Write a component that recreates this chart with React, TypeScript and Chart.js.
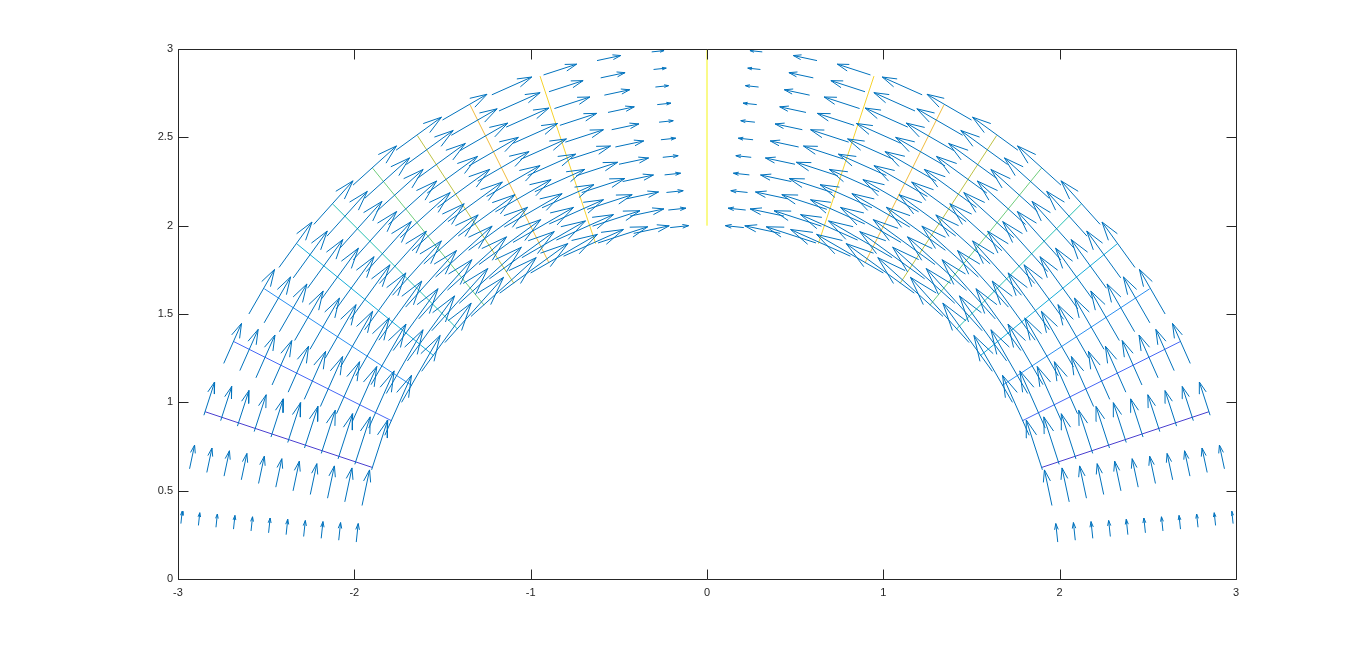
import React, { useEffect, useRef } from 'react';
import { Chart, registerables } from 'chart.js';

Chart.register(...registerables);

// Polar grid of the quiver plot
const radii = [2.0, 2.1, 2.2, 2.3, 2.4, 2.5, 2.6, 2.7, 2.8, 2.9, 3.0];
const anglesDeg = [
  0, 6, 12, 18, 24, 30, 36, 42, 48, 54, 60, 66, 72, 78, 84, 90,
  96, 102, 108, 114, 120, 126, 132, 138, 144, 150, 156, 162, 168, 174, 180,
];
// tangential (counter-clockwise) velocity at r = 3, per angle (relative units)
const tangentialSpeed = [
  0, 0.21, 0.41, 0.59, 0.74, 0.87, 0.95, 0.99, 0.99, 0.95, 0.87, 0.74, 0.59, 0.41, 0.21, 0,
  -0.21, -0.41, -0.59, -0.74, -0.87, -0.95, -0.99, -0.99, -0.95, -0.87, -0.74, -0.59, -0.41, -0.21, 0,
];
// growth of the velocity toward the inner radius (per radius above)
const radialFactor = [1.5, 1.43, 1.36, 1.3, 1.25, 1.2, 1.15, 1.11, 1.07, 1.03, 1.0];

// Contour lines (radial), angle from the horizontal on each side
const contourLevels = [-0.8, -0.6, -0.4, -0.2, 0, 0.2, 0.4, 0.6, 0.8, 1.0];
const contourAnglesDeg = [18.4, 26.6, 33.2, 39.2, 45, 50.8, 56.8, 63.4, 71.6, 90];
const contourColors = [
  '#4a3fd0', '#4667f5', '#2a8ef0', '#14abd8', '#24bfb0',
  '#6ecc7a', '#bdc143', '#f0bb3d', '#f6d22c', '#f5f512',
];
const contourInner = 2.0;
const contourOuter = 3.0;

const xTicks = [-3, -2, -1, 0, 1, 2, 3];
const yTicks = [0, 0.5, 1, 1.5, 2, 2.5, 3];

const ARROW_SCALE = 0.335;
const HEAD_ALPHA = 0.33;
const HEAD_BETA = 0.3;

function buildArrows() {
  const pts: { x: number; y: number }[] = [];
  const gap = { x: NaN, y: NaN };
  anglesDeg.forEach((deg, i) => {
    const th = (deg * Math.PI) / 180;
    radii.forEach((r, j) => {
      const m = tangentialSpeed[i] * radialFactor[j] * ARROW_SCALE;
      if (m === 0) return;
      const x = r * Math.cos(th);
      const y = r * Math.sin(th);
      const u = -m * Math.sin(th);
      const v = m * Math.cos(th);
      const tx = x + u;
      const ty = y + v;
      pts.push({ x, y }, { x: tx, y: ty }, gap);
      pts.push(
        { x: tx - HEAD_ALPHA * (u + HEAD_BETA * v), y: ty - HEAD_ALPHA * (v - HEAD_BETA * u) },
        { x: tx, y: ty },
        { x: tx - HEAD_ALPHA * (u - HEAD_BETA * v), y: ty - HEAD_ALPHA * (v + HEAD_BETA * u) },
        gap
      );
    });
  });
  return pts;
}

function buildContours() {
  const sets: any[] = [];
  contourLevels.forEach((lvl, k) => {
    const a = contourAnglesDeg[k];
    const sides = a === 90 ? [a] : [a, 180 - a];
    const data: { x: number; y: number }[] = [];
    sides.forEach((deg) => {
      const th = (deg * Math.PI) / 180;
      data.push(
        { x: contourInner * Math.cos(th), y: contourInner * Math.sin(th) },
        { x: contourOuter * Math.cos(th), y: contourOuter * Math.sin(th) },
        { x: NaN, y: NaN }
      );
    });
    sets.push({
      label: 'level ' + lvl,
      data,
      showLine: true,
      borderColor: contourColors[k],
      borderWidth: 1,
      pointRadius: 0,
      spanGaps: false,
    });
  });
  return sets;
}

const matlabAxes = {
  id: 'matlabAxes',
  afterDraw(chart: any) {
    const { ctx, chartArea } = chart;
    const { left, right, top, bottom } = chartArea;
    const xs = chart.scales.x;
    const ys = chart.scales.y;
    const tl = 10;
    ctx.save();
    ctx.strokeStyle = '#262626';
    ctx.lineWidth = 1;
    ctx.beginPath();
    const L = Math.round(left) + 0.5;
    const R = Math.round(right) + 0.5;
    const T = Math.round(top) + 0.5;
    const B = Math.round(bottom) + 0.5;
    ctx.moveTo(L, T);
    ctx.lineTo(R, T);
    ctx.lineTo(R, B);
    ctx.lineTo(L, B);
    ctx.closePath();
    xTicks.forEach((v) => {
      const px = Math.round(xs.getPixelForValue(v)) + 0.5;
      ctx.moveTo(px, B);
      ctx.lineTo(px, B - tl);
      ctx.moveTo(px, T);
      ctx.lineTo(px, T + tl);
    });
    yTicks.forEach((v) => {
      const py = Math.round(ys.getPixelForValue(v)) + 0.5;
      ctx.moveTo(L, py);
      ctx.lineTo(L + tl, py);
      ctx.moveTo(R, py);
      ctx.lineTo(R - tl, py);
    });
    ctx.stroke();
    ctx.restore();
  },
};

export default function App() {
  const ref = useRef<HTMLCanvasElement | null>(null);
  useEffect(() => {
    if (!ref.current) return;
    const font = { family: '"Liberation Sans", Arial, Helvetica, sans-serif', size: 11 };
    const fmt = (v: any) => String(Number(v));
    const chart = new Chart(ref.current, {
      type: 'scatter',
      data: {
        datasets: [
          {
            label: 'velocity',
            data: buildArrows(),
            showLine: true,
            borderColor: '#0072BD',
            borderWidth: 1,
            pointRadius: 0,
            spanGaps: false,
          },
          ...buildContours(),
        ],
      },
      plugins: [matlabAxes],
      options: {
        animation: false,
        responsive: false,
        devicePixelRatio: 1,
        layout: { padding: { left: 138, right: 130, top: 49, bottom: 42 } },
        plugins: { legend: { display: false }, tooltip: { enabled: false } },
        elements: { line: { tension: 0 } },
        scales: {
          x: {
            type: 'linear',
            min: -3,
            max: 3,
            afterFit: (s: any) => { s.height = 30; },
            afterBuildTicks: (s: any) => { s.ticks = xTicks.map((v) => ({ value: v })); },
            ticks: { font, color: '#262626', padding: 7, maxRotation: 0, callback: fmt },
            grid: { display: false, drawTicks: false },
            border: { display: false },
          },
          y: {
            type: 'linear',
            min: 0,
            max: 3,
            afterFit: (s: any) => { s.width = 40; },
            afterBuildTicks: (s: any) => { s.ticks = yTicks.map((v) => ({ value: v })); },
            ticks: { font, color: '#262626', padding: 5, callback: fmt },
            grid: { display: false, drawTicks: false },
            border: { display: false },
          },
        },
      },
    } as any);
    return () => chart.destroy();
  }, []);
  return (
    <div style={{ position: 'fixed', left: 0, top: 0, width: 1366, height: 651, background: '#fff' }}>
      <canvas ref={ref} width={1366} height={651} style={{ display: 'block' }} />
    </div>
  );
}
